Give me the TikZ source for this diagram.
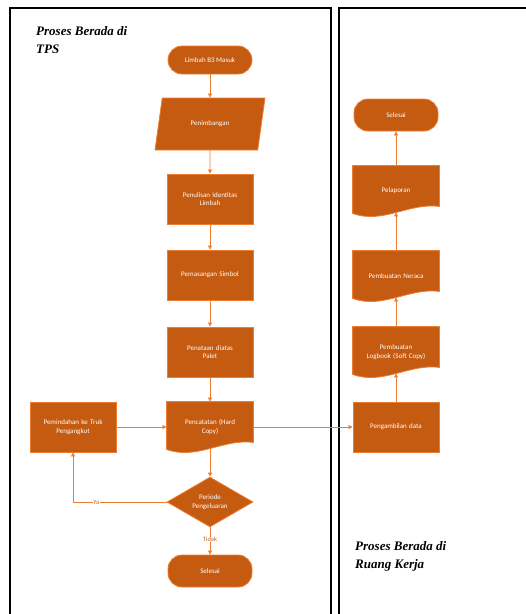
\documentclass[tikz,border=0pt]{standalone}
\usepackage{fontspec}
\newfontfamily\boxfont{Carlito}
\newfontfamily\lanefont{Liberation Serif}
\usetikzlibrary{shapes.geometric,arrows.meta,backgrounds}
\definecolor{boxor}{HTML}{C55A11}
\definecolor{lineor}{HTML}{ED7D31}
\begin{document}
\begin{tikzpicture}[x=1pt,y=-1pt,
  base/.style={fill=boxor, draw=lineor, line width=0.8pt, text=white,
    font=\boxfont\fontsize{7}{8.5}\selectfont, align=center, inner sep=1pt},
  term/.style={base, rectangle, rounded corners=14pt, minimum width=84, minimum height=32},
  proc/.style={base, rectangle, minimum width=86, minimum height=50, text width=82},
  io/.style={base, trapezium, trapezium left angle=69, trapezium right angle=111,
    trapezium stretches=true, minimum width=110, minimum height=52},
  doc/.style={proc, draw=none, fill=none},
  docshape/.style={fill=boxor, draw=lineor, line width=0.8pt},
  dec/.style={base, diamond, minimum width=86, minimum height=48, inner sep=0pt},
  arr/.style={draw=lineor, line width=0.7pt, -{Triangle[width=4pt,length=4pt]}},
  lane/.style={draw=black, line width=1.8pt},
  lanetitle/.style={font=\lanefont\bfseries\itshape\fontsize{13}{18}\selectfont, align=left, anchor=north west, inner sep=0pt},
  yn/.style={font=\boxfont\fontsize{6.5}{7}\selectfont, text=lineor!80!black, fill=white, inner sep=0.5pt}
]
\useasboundingbox (0,0) rectangle (526,614);
% lanes
\draw[lane] (10,620) -- (10,8) -- (331,8) -- (331,620);
\draw[lane] (339,620) -- (339,8) -- (530,8);
\node[lanetitle] (t1) at (36,26) {Proses Berada di\\TPS};
\node[lanetitle] (t2) at (355,541) {Proses Berada di\\Ruang Kerja};

% left column
\node[term, minimum height=28] (start) at (210,60) {Limbah B3 Masuk};
\node[io] (timbang) at (210,124) {Penimbangan};
\node[proc] (tulis) at (210,199) {Penulisan Identitas\\Limbah};
\node[proc] (simbol) at (210,275) {Pemasangan Simbol};
\node[proc] (palet) at (210,352) {Penataan diatas\\Palet};
\node[doc] (catat) at (210,427) {Pencatatan (Hard\\Copy)};
\node[proc] (truk) at (73,427) {Pemindahan ke Truk\\Pengangkut};
\node[dec] (periode) at (210,502) {Periode\\Pengeluaran};
\node[term] (selesai1) at (210,571) {Selesai};

% right column
\node[proc] (ambil) at (396,427) {Pengambilan data};
\node[doc] (logbook) at (396,352) {Pembuatan\\Logbook (Soft Copy)};
\node[doc] (neraca) at (396,276) {Pembuatan Neraca};
\node[doc] (lapor) at (396,191) {Pelaporan};
\node[term] (selesai2) at (396,115) {Selesai};

\begin{scope}[on background layer]
\foreach \n in {catat,logbook,neraca,lapor}{
  \filldraw[docshape] (\n.north west) -- (\n.north east) -- ([yshift=10pt]\n.south east)
    .. controls ([xshift=-30pt,yshift=14pt]\n.south east) and ([xshift=30pt,yshift=-8pt]\n.south west)
    .. ([yshift=3pt]\n.south west) -- cycle;
}
\end{scope}

% connectors left
\draw[arr] (start) -- (timbang);
\draw[arr] (timbang) -- (tulis);
\draw[arr] (tulis) -- (simbol);
\draw[arr] (simbol) -- (palet);
\draw[arr] (palet) -- (catat);
\draw[arr] ([yshift=4pt]catat.south) -- (periode.north);
\draw[arr] (periode.south) -- node[yn, pos=0.45] {Tidak} (selesai1.north);
\draw[arr] (periode.west) -- node[yn, pos=0.75] {Ya} (truk.south |- periode.west) -- (truk.south);
\draw[arr] (truk.east) -- (catat.west);
\draw[arr] (catat.east) -- (ambil.west);

% connectors right
\draw[arr] (ambil.north) -- ([yshift=4pt]logbook.south);
\draw[arr] (logbook.north) -- ([yshift=4pt]neraca.south);
\draw[arr] (neraca.north) -- ([yshift=4pt]lapor.south);
\draw[arr] (lapor.north) -- (selesai2.south);
\end{tikzpicture}
\end{document}
